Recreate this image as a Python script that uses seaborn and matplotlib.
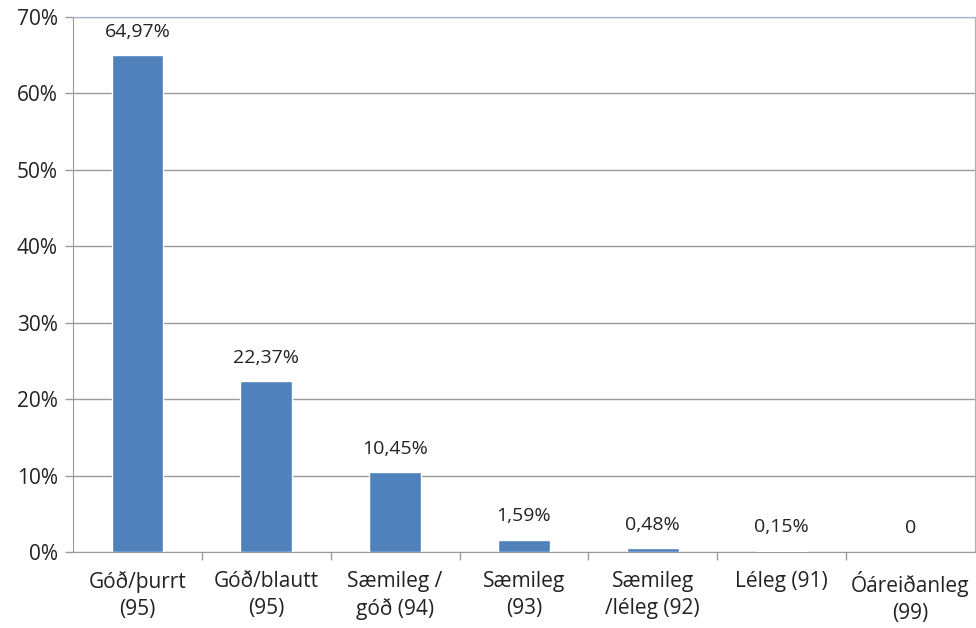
import pandas as pd
import seaborn as sns
import matplotlib.pyplot as plt
from matplotlib.ticker import FuncFormatter

categories = ["Góð/þurrt\n(95)", "Góð/blautt\n(95)", "Sæmileg /\ngóð (94)", "Sæmileg\n(93)",
              "Sæmileg\n/léleg (92)", "Léleg (91)", "Óáreiðanleg\n(99)"]
values = [64.97, 22.37, 10.45, 1.59, 0.48, 0.15, 0.0]
labels = ["64,97%", "22,37%", "10,45%", "1,59%", "0,48%", "0,15%", "0"]

df = pd.DataFrame({"cat": categories, "val": values})

sns.set_style("white")
plt.rcParams["font.family"] = ["Open Sans", "DejaVu Sans"]

fig = plt.figure(figsize=(9.76, 6.28), dpi=100)
ax = fig.add_axes([0.0748, 0.121, 0.924, 0.852])

sns.barplot(data=df, x="cat", y="val", color="#4F81BD", width=0.4,
            saturation=1, ax=ax, zorder=3)

for i, (v, lab) in enumerate(zip(values, labels)):
    ax.text(i, v + 1.9, lab, ha="center", va="bottom", fontsize=14, color="#222222")

ax.set_ylim(0, 70)
ax.set_xlim(-0.5, len(categories) - 0.5)
ax.set_yticks(range(0, 71, 10))
ax.yaxis.set_major_formatter(FuncFormatter(lambda y, _: f"{int(y)}%"))
ax.yaxis.grid(True, color="#9A9A9A", linewidth=1, zorder=0)
ax.set_axisbelow(True)

ax.set_xticks([i + 0.5 for i in range(len(categories) - 1)], minor=True)
ax.tick_params(axis="x", which="major", length=0, labelsize=15, pad=14, colors="#222222")
ax.tick_params(axis="x", which="minor", length=6, color="#9A9A9A", width=1, direction="out", bottom=True)
ax.tick_params(axis="y", length=6, color="#9A9A9A", width=1, direction="out", left=True,
               labelsize=15, pad=5, colors="#222222")
for t in ax.get_xticklabels():
    t.set_linespacing(1.35)

ax.set_xlabel("")
ax.set_ylabel("")
for s in ["left", "bottom"]:
    ax.spines[s].set_color("#9A9A9A")
ax.spines["top"].set_color("#9DB3D6")
ax.spines["right"].set_color("#9DB3D6")

fig.savefig("out.png", dpi=100)
